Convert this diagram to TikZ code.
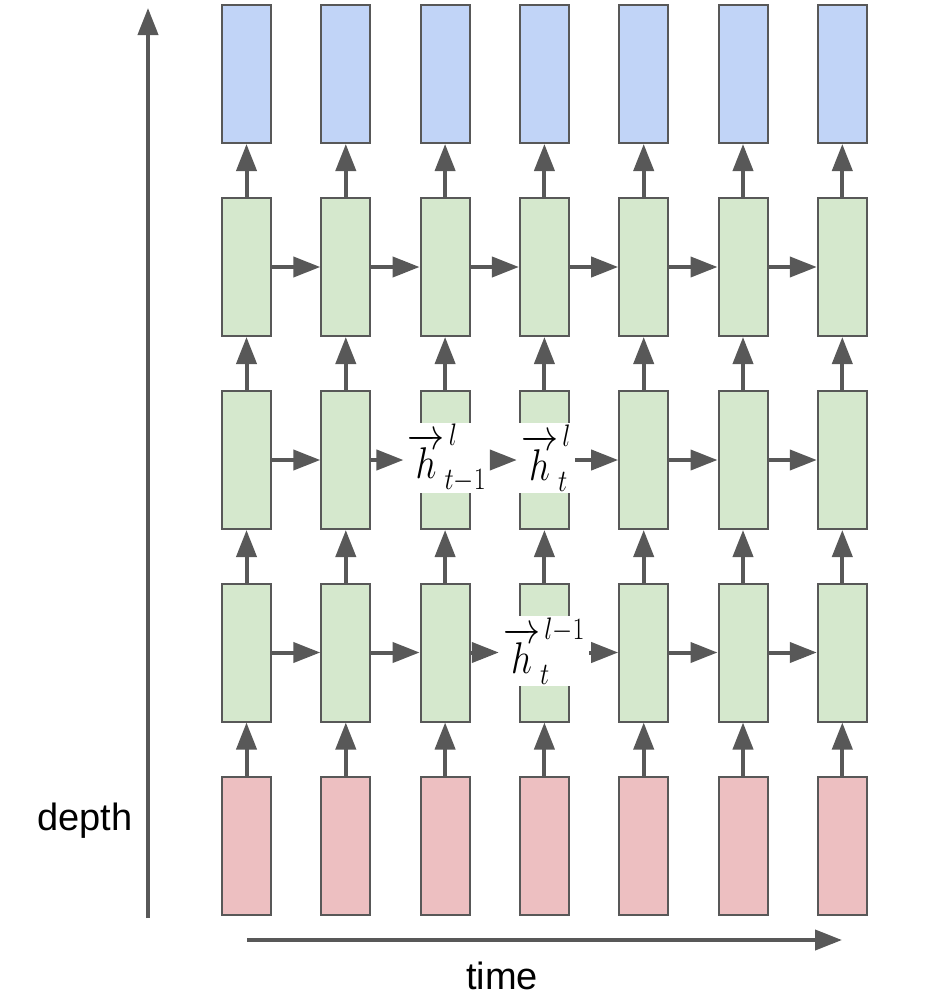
\RequirePackage{fix-cm}
\documentclass[tikz,border=0pt]{standalone}
\usepackage[no-math]{fontspec}
\usepackage{xcolor}
\usepackage{graphicx}
\usepackage{tikz}
\usetikzlibrary{arrows.meta}
\newfontfamily\axisfont{Liberation Sans}
\definecolor{outblue}{RGB}{193,212,247}
\definecolor{hidgreen}{RGB}{213,232,205}
\definecolor{inred}{RGB}{237,191,193}
\definecolor{linegray}{RGB}{88,88,88}
\newcommand{\tallmath}[1]{\scalebox{1}[1.2]{$#1$}}

\begin{document}
\begin{tikzpicture}[x=1pt, y=-1pt,
  cell/.style={draw=linegray, line width=2pt, minimum width=49pt, minimum height=138pt, inner sep=0pt},
  arr/.style={draw=linegray, line width=4pt, -{Triangle[length=27pt,width=20pt]}},
  hlab/.style={fill=white, inner xsep=4pt, inner ysep=0pt, minimum height=70pt, font=\fontsize{37}{42}\selectfont},
  axislab/.style={font=\axisfont\fontsize{38}{44}\selectfont, inner sep=0pt}]
\useasboundingbox (0,0) rectangle (926,1004);
% one column per time step
\foreach \i in {1,...,7} {
  \node[cell, fill=outblue] (out\i) at ({246.5+99.3*(\i-1)},74) {};
  \node[cell, fill=hidgreen] (hid1-\i) at ({246.5+99.3*(\i-1)},267) {};
  \node[cell, fill=hidgreen] (hid2-\i) at ({246.5+99.3*(\i-1)},460) {};
  \node[cell, fill=hidgreen] (hid3-\i) at ({246.5+99.3*(\i-1)},652.5) {};
  \node[cell, fill=inred] (in\i) at ({246.5+99.3*(\i-1)},845.5) {};
}
\node[hlab] (hprev) at (447,458) {\tallmath{\overrightarrow{h}^{\,l}_{t-1}}};
\node[hlab] (hcur) at (546,458) {\tallmath{\overrightarrow{h}^{\,l}_{t}}};
\node[hlab] (hbelow) at (544,651) {\tallmath{\overrightarrow{h}^{\,l-1}_{t}}};
% upward connections
\foreach \i in {1,...,7} {
  \draw[arr] (in\i.north) -- (hid3-\i.south);
  \draw[arr] (hid3-\i.north) -- (hid2-\i.south);
  \draw[arr] (hid2-\i.north) -- (hid1-\i.south);
  \draw[arr] (hid1-\i.north) -- (out\i.south);
}
% recurrent connections
\foreach \x/\y in {1/2,2/3,3/4,4/5,5/6,6/7}
  \draw[arr] (hid1-\x.east) -- (hid1-\y.west);
\foreach \x/\y in {1/2,5/6,6/7}
  \draw[arr] (hid2-\x.east) -- (hid2-\y.west);
\foreach \x/\y in {1/2,2/3,5/6,6/7}
  \draw[arr] (hid3-\x.east) -- (hid3-\y.west);
\draw[arr] (hid2-2.east) -- (hid2-2.east -| hprev.west);
\draw[arr] (hprev.east |- hid2-2.east) -- (hcur.west |- hid2-2.east);
\draw[arr] (hcur.east |- hid2-2.east) -- (hid2-5.west);
\draw[arr] (hid3-3.east) -- (hid3-3.east -| hbelow.west);
\draw[arr] (hbelow.east |- hid3-3.east) -- (hid3-5.west);
% axes
\coordinate (dbot) at (148,918);
\coordinate (dtop) at (148,8);
\coordinate (tleft) at (247,940);
\coordinate (tright) at (842,940);
\draw[arr] (dbot) -- (dtop);
\draw[arr] (tleft) -- (tright);
\node[axislab] (depth) at (85,821) {depth};
\node[axislab] (time) at (502,976) {time};
\end{tikzpicture}
\end{document}
